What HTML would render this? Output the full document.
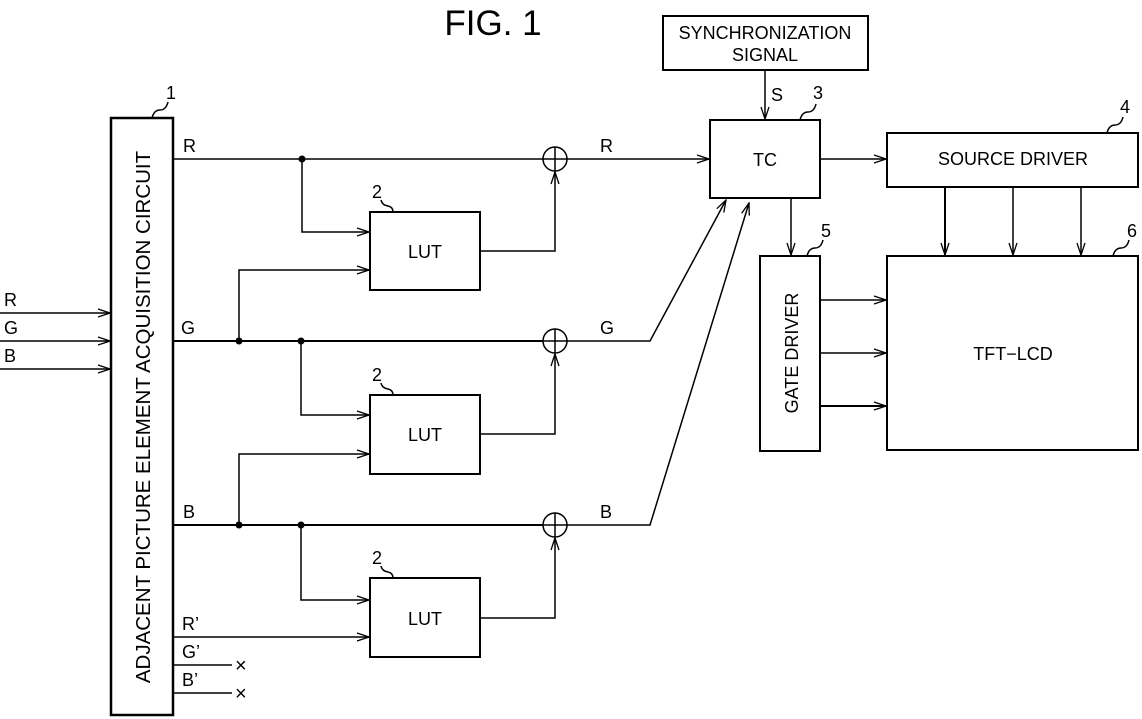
<!DOCTYPE html>
<html><head><meta charset="utf-8"><style>
html,body{margin:0;padding:0;background:#fff}
svg{display:block}
text{font-family:"Liberation Sans",sans-serif;fill:#000}
</style></head><body>
<svg width="1142" height="719" viewBox="0 0 1142 719" xmlns="http://www.w3.org/2000/svg">
<defs>
<marker id="a" markerWidth="14" markerHeight="10" refX="13" refY="5" orient="auto" markerUnits="userSpaceOnUse">
<path d="M1,1 L13,5 L1,9" fill="none" stroke="#000" stroke-width="1.3"/></marker>
</defs>
<g fill="none" stroke="#000" stroke-width="1.5">
<text x="493" y="35" font-size="35" text-anchor="middle" stroke="none">FIG. 1</text>
<rect x="111" y="118" width="62" height="597" stroke-width="2.5"/>
<line x1="0" y1="313" x2="110" y2="313" marker-end="url(#a)"/>
<line x1="0" y1="341" x2="110" y2="341" marker-end="url(#a)"/>
<line x1="0" y1="369" x2="110" y2="369" marker-end="url(#a)"/>
<line x1="173" y1="159" x2="543" y2="159"/>
<line x1="567" y1="159" x2="709" y2="159" marker-end="url(#a)"/>
<line x1="173" y1="341" x2="543" y2="341" stroke-width="2"/>
<polyline points="567,341 650,341 726,200" marker-end="url(#a)"/>
<line x1="173" y1="525" x2="543" y2="525" stroke-width="2"/>
<polyline points="567,525 650,525 749,203" marker-end="url(#a)"/>
<line x1="173" y1="637" x2="369" y2="637" marker-end="url(#a)"/>
<line x1="173" y1="665" x2="232" y2="665"/>
<line x1="173" y1="693" x2="232" y2="693"/>
<circle cx="555" cy="159" r="12"/><line x1="543" y1="159" x2="567" y2="159"/><line x1="555" y1="147" x2="555" y2="171"/>
<circle cx="555" cy="341" r="12"/><line x1="543" y1="341" x2="567" y2="341"/><line x1="555" y1="329" x2="555" y2="353"/>
<circle cx="555" cy="525" r="12"/><line x1="543" y1="525" x2="567" y2="525"/><line x1="555" y1="513" x2="555" y2="537"/>
<rect x="370" y="212" width="110" height="78" stroke-width="2"/>
<rect x="370" y="395" width="110" height="79" stroke-width="2"/>
<rect x="370" y="578" width="110" height="79" stroke-width="2"/>
<polyline points="302,159 302,232 369,232" marker-end="url(#a)"/>
<polyline points="239,341 239,270 369,270" marker-end="url(#a)"/>
<polyline points="301,341 301,415 369,415" marker-end="url(#a)"/>
<polyline points="239,525 239,454 369,454" marker-end="url(#a)"/>
<polyline points="301,525 301,600 369,600" marker-end="url(#a)"/>
<polyline points="480,251 555,251 555,172" marker-end="url(#a)"/>
<polyline points="480,434 555,434 555,354" marker-end="url(#a)"/>
<polyline points="480,618 555,618 555,538" marker-end="url(#a)"/>
<g fill="#000" stroke="none">
<circle cx="302" cy="159" r="3.5"/><circle cx="239" cy="341" r="3.5"/><circle cx="301" cy="341" r="3.5"/>
<circle cx="239" cy="525" r="3.5"/><circle cx="301" cy="525" r="3.5"/>
</g>
<rect x="663" y="16" width="205" height="54" stroke-width="2"/>
<line x1="765" y1="70" x2="765" y2="119" marker-end="url(#a)"/>
<rect x="710" y="120" width="110" height="78" stroke-width="2"/>
<line x1="820" y1="159" x2="886" y2="159" marker-end="url(#a)"/>
<rect x="887" y="133" width="251" height="54" stroke-width="2"/>
<rect x="887" y="256" width="251" height="194" stroke-width="2"/>
<rect x="760" y="256" width="60" height="195" stroke-width="2"/>
<line x1="791" y1="198" x2="791" y2="255" marker-end="url(#a)"/>
<line x1="945" y1="187" x2="945" y2="255" marker-end="url(#a)" stroke-width="2"/>
<line x1="1013" y1="187" x2="1013" y2="255" marker-end="url(#a)"/>
<line x1="1081" y1="187" x2="1081" y2="255" marker-end="url(#a)"/>
<line x1="820" y1="300" x2="886" y2="300" marker-end="url(#a)"/>
<line x1="820" y1="353" x2="886" y2="353" marker-end="url(#a)"/>
<line x1="820" y1="406" x2="886" y2="406" marker-end="url(#a)" stroke-width="2"/>
<path d="M152,118 q2,-8 8,-8 q6,0 8,-8"/>
<path d="M393,212 q0,-5 -5,-6 q-6,-1 -7,-6"/>
<path d="M393,395 q0,-5 -5,-6 q-6,-1 -7,-6"/>
<path d="M393,578 q0,-5 -5,-6 q-6,-1 -7,-6"/>
<path d="M800,120 q2,-8 8,-8 q6,0 8,-8"/>
<path d="M1107,133 q2,-8 8,-8 q6,0 8,-8"/>
<path d="M807,256 q2,-8 8,-8 q6,0 8,-8"/>
<path d="M1113,256 q2,-8 8,-8 q6,0 8,-8"/>
</g>
<g font-size="18">
<text x="183" y="152">R</text><text x="181" y="334">G</text><text x="183" y="518">B</text>
<text x="182" y="630">R’</text><text x="182" y="658">G’</text><text x="182" y="686">B’</text>
<text x="235" y="672" font-size="20">×</text><text x="235" y="700" font-size="20">×</text>
<text x="4" y="306">R</text><text x="4" y="334">G</text><text x="4" y="362">B</text>
<text x="600" y="152">R</text><text x="600" y="334">G</text><text x="600" y="518">B</text>
<text x="771" y="101">S</text>
<text x="166" y="99">1</text><text x="372" y="198">2</text><text x="372" y="381">2</text><text x="372" y="564">2</text>
<text x="813" y="99">3</text><text x="1120" y="113">4</text><text x="821" y="237">5</text><text x="1127" y="237">6</text>
<text x="425" y="258" text-anchor="middle">LUT</text>
<text x="425" y="441" text-anchor="middle">LUT</text>
<text x="425" y="625" text-anchor="middle">LUT</text>
<text x="765" y="166" text-anchor="middle">TC</text>
<text x="1013" y="165" text-anchor="middle">SOURCE DRIVER</text>
<text x="1013" y="360" text-anchor="middle">TFT−LCD</text>
<text x="765" y="39" text-anchor="middle">SYNCHRONIZATION</text>
<text x="765" y="61" text-anchor="middle">SIGNAL</text>
<text transform="translate(798,353) rotate(-90)" text-anchor="middle">GATE DRIVER</text>
<text transform="translate(150,417) rotate(-90)" text-anchor="middle" font-size="20.5">ADJACENT PICTURE ELEMENT ACQUISITION CIRCUIT</text>
</g>
</svg>
</body></html>
